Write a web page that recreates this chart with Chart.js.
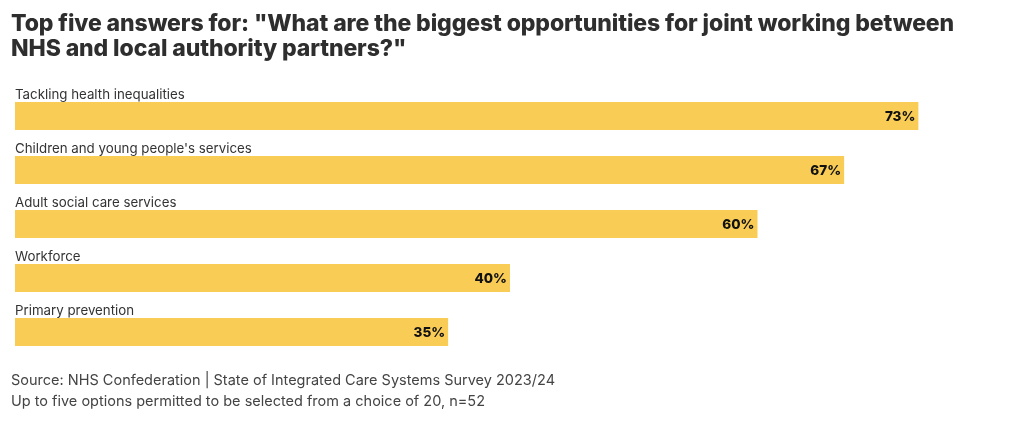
<!DOCTYPE html>
<html>
<head>
<meta charset="utf-8">
<script src="https://cdn.jsdelivr.net/npm/chart.js@4"></script>
<style>
  html, body { margin:0; padding:0; background:#fff; }
  #wrap { position:relative; width:1020px; height:421px; overflow:hidden; font-family:"Inter","Noto Sans",sans-serif; }
  #title { position:absolute; left:11px; top:11px; width:1005px; font-size:23px; font-weight:800; line-height:25px; color:#2e2e2e; letter-spacing:-0.1px; white-space:nowrap; }
  #foot { position:absolute; left:11px; top:369px; font-size:14.5px; line-height:21px; color:#444; }
  canvas { position:absolute; left:0; top:0; }
</style>
</head>
<body>
<div id="wrap">
  <canvas id="c" width="1020" height="421"></canvas>
  <div id="title">Top five answers for: "What are the biggest opportunities for joint working between<br>NHS and local authority partners?"</div>
  <div id="foot">Source: NHS Confederation | State of Integrated Care Systems Survey 2023/24<br>Up to five options permitted to be selected from a choice of 20, n=52</div>
</div>
<script>
const categories = ["Tackling health inequalities", "Children and young people's services", "Adult social care services", "Workforce", "Primary prevention"];
const values = [73, 67, 60, 40, 35];
const valueLabels = ["73%", "67%", "60%", "40%", "35%"];

const FONT = "Inter, 'Noto Sans', sans-serif";

const labelPlugin = {
  id: 'labels',
  afterDatasetsDraw(chart) {
    const ctx = chart.ctx;
    const meta = chart.getDatasetMeta(0);
    ctx.save();
    meta.data.forEach((bar, i) => {
      const top = bar.y - bar.height / 2;
      ctx.font = "13.3px " + FONT;
      ctx.fillStyle = "#333";
      ctx.textAlign = "left";
      ctx.textBaseline = "alphabetic";
      ctx.fillText(categories[i], chart.chartArea.left, top - 3);
      ctx.font = "800 13.5px " + FONT;
      ctx.fillStyle = "#111";
      ctx.textAlign = "right";
      ctx.textBaseline = "middle";
      ctx.fillText(valueLabels[i], bar.x - 3, bar.y + 1);
    });
    ctx.restore();
  }
};

new Chart(document.getElementById('c'), {
  type: 'bar',
  data: {
    labels: categories,
    datasets: [{
      data: values,
      backgroundColor: '#F9CD55',
      borderWidth: 0,
      barPercentage: 1,
      categoryPercentage: 28/54
    }]
  },
  options: {
    indexAxis: 'y',
    responsive: false,
    animation: false,
    layout: { padding: { left: 15, right: 15, top: 89, bottom: 62 } },
    plugins: { legend: { display: false }, tooltip: { enabled: false } },
    scales: {
      x: { display: false, min: 0, max: 80 },
      y: { display: false }
    }
  },
  plugins: [labelPlugin]
});
</script>
</body>
</html>
